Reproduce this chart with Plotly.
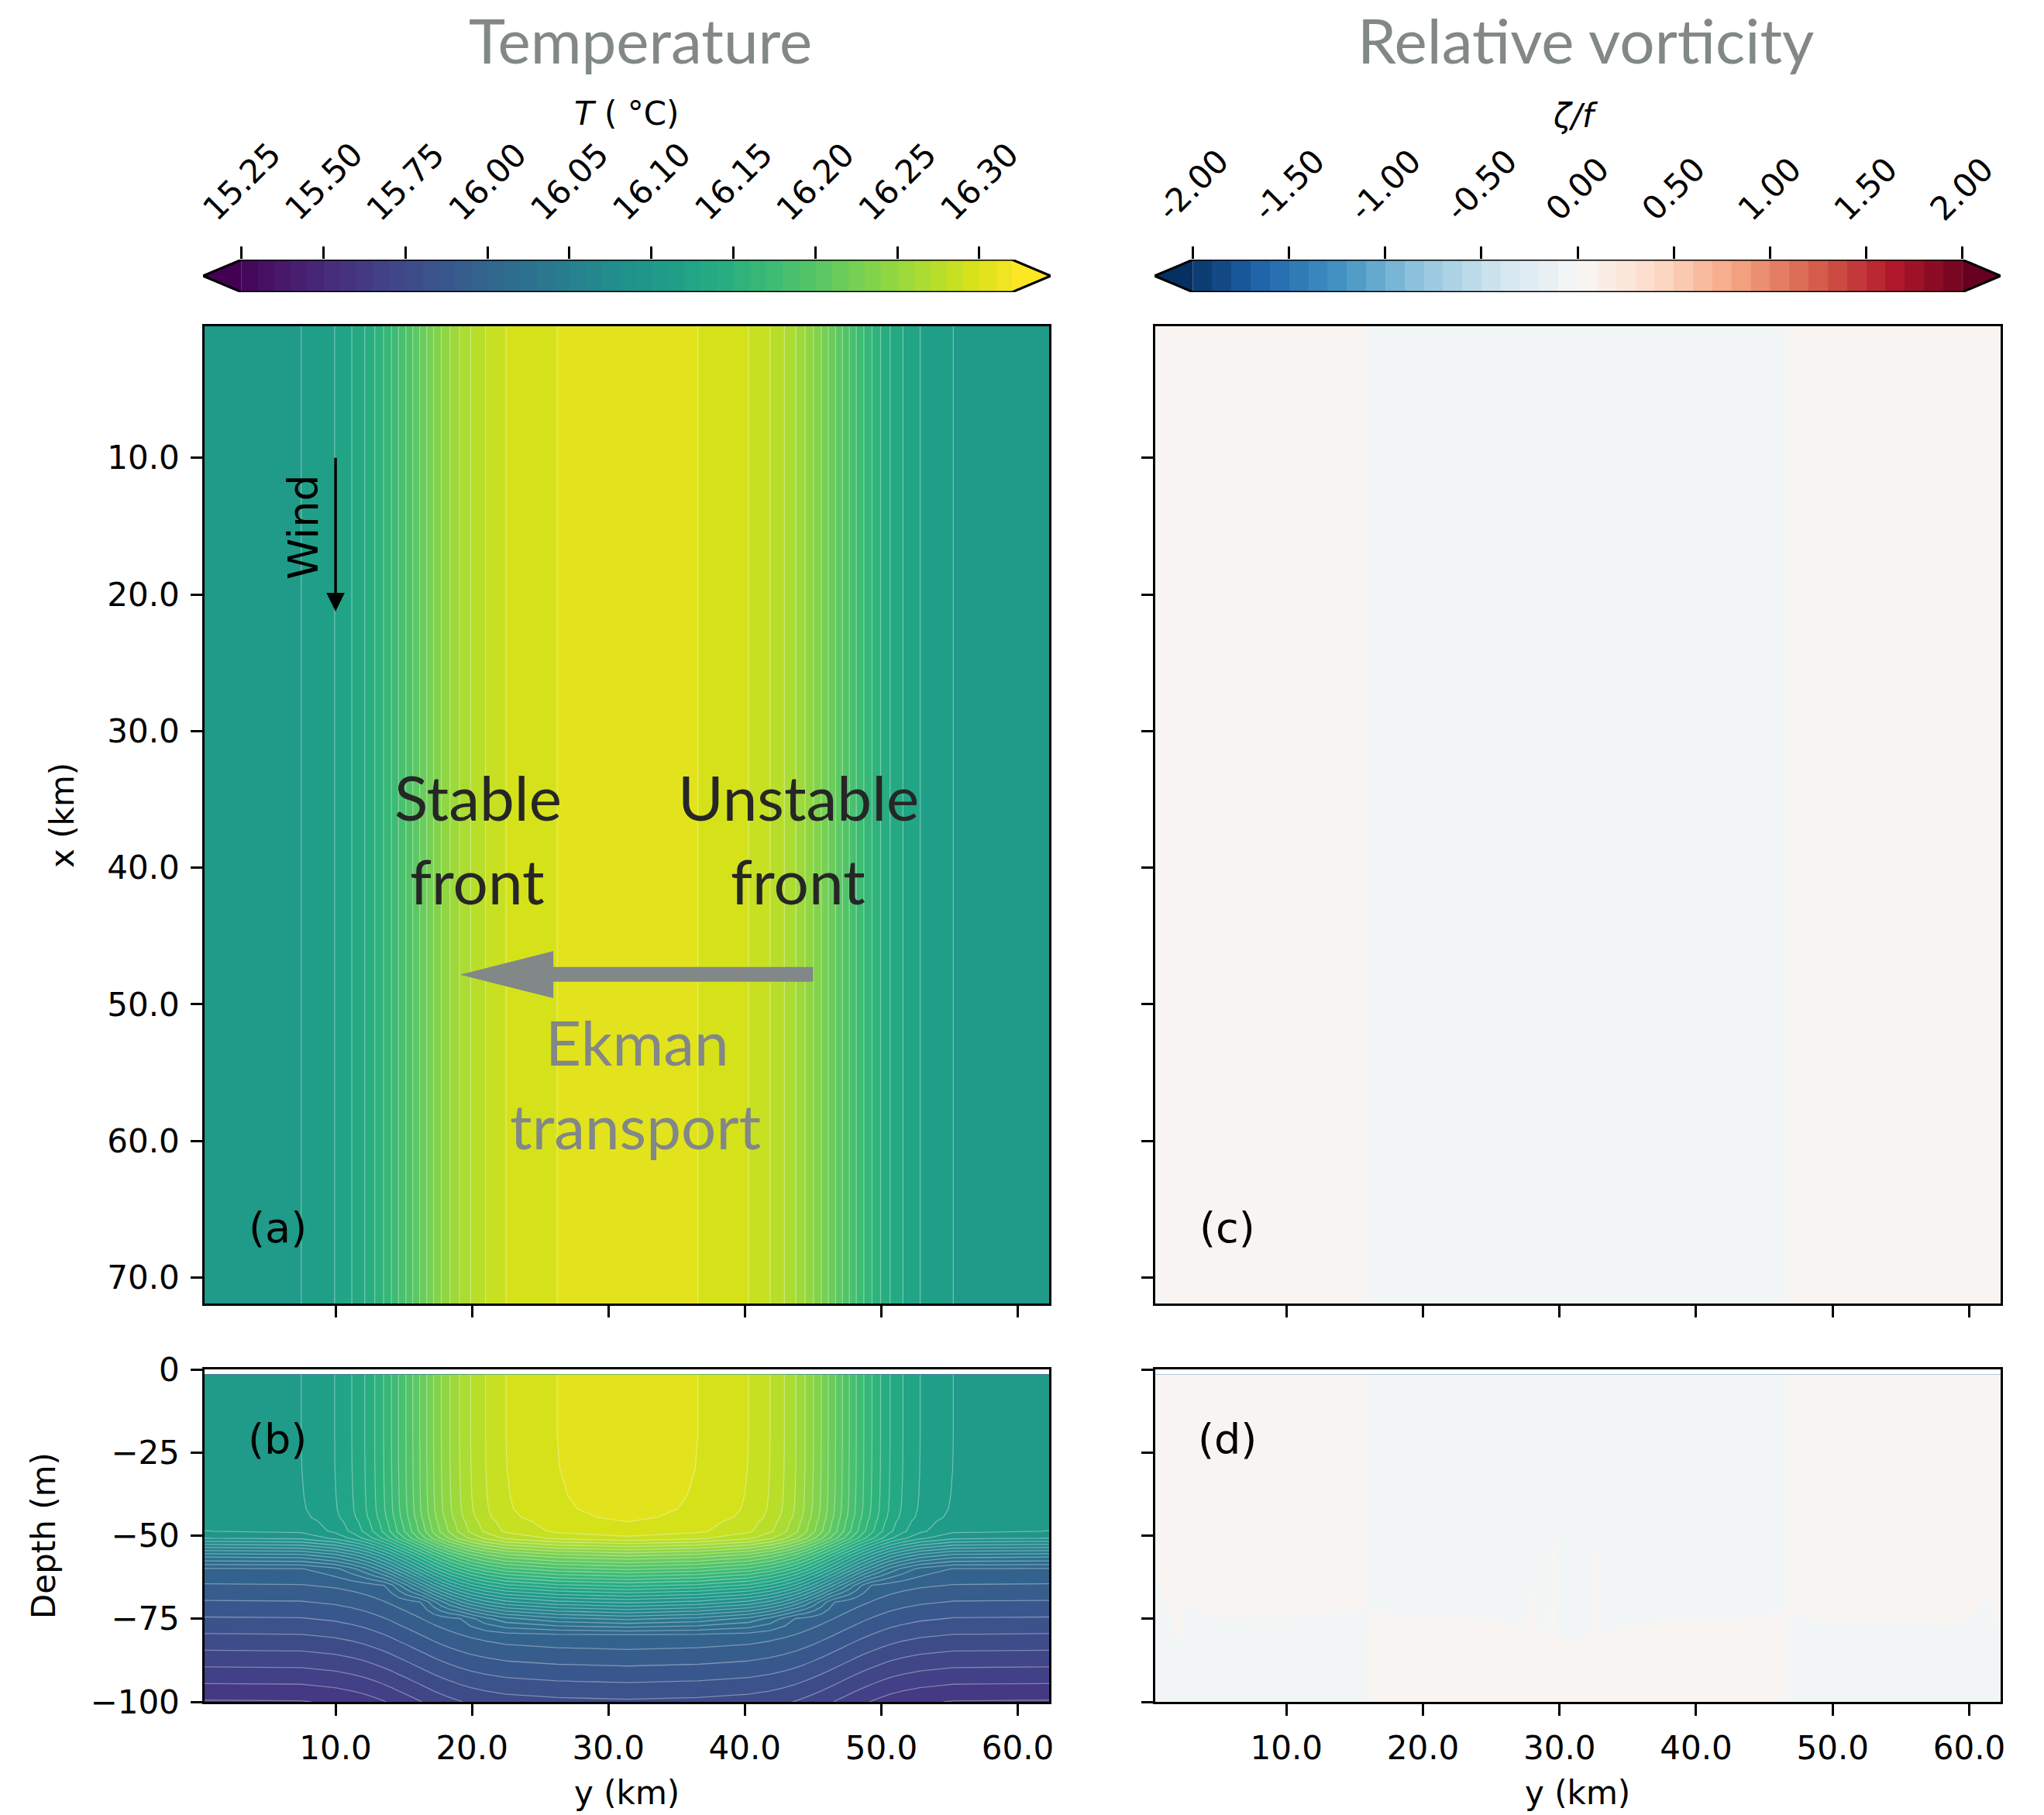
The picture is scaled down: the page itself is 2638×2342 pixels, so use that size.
import numpy as np
import plotly.graph_objects as go

W, H = 2638, 2342


def fx(px):
    return px / W


def fy(py):
    return 1 - py / H


# ---------------------------------------------------------------- levels / ticks
T_LEVELS = [15.25, 15.30, 15.35, 15.40, 15.45, 15.50, 15.55, 15.60, 15.65, 15.70,
            15.75, 15.80, 15.85, 15.90, 15.95,
            16.00, 16.01, 16.02, 16.03, 16.04, 16.05, 16.06, 16.07, 16.08, 16.09,
            16.10, 16.11, 16.12, 16.13, 16.14, 16.15, 16.16, 16.17, 16.18, 16.19,
            16.20, 16.21, 16.22, 16.23, 16.24, 16.25, 16.26, 16.27, 16.28, 16.29,
            16.30, 16.31, 16.32]
T_TICKS = [15.25, 15.50, 15.75, 16.00, 16.05, 16.10, 16.15, 16.20, 16.25, 16.30]
Z_LEVELS = [round(-2.0 + 0.1 * k, 1) for k in range(41)]
Z_TICKS = [-2.0, -1.5, -1.0, -0.5, 0.0, 0.5, 1.0, 1.5, 2.0]

Y_TICKS = [10, 20, 30, 40, 50, 60]
Y_TICKTEXT = ["10.0", "20.0", "30.0", "40.0", "50.0", "60.0"]
X_TICKS = [10, 20, 30, 40, 50, 60, 70]
X_TICKTEXT = ["10.0", "20.0", "30.0", "40.0", "50.0", "60.0", "70.0"]
D_TICKS = [0, -25, -50, -75, -100]
D_TICKTEXT = ["0", "\u221225", "\u221250", "\u221275", "\u2212100"]

# ---------------------------------------------------------------- temperature data
# surface temperature across the front (y in km)
y_km = [0.4, 7.48, 9.93, 11.19, 12.14, 12.87, 13.52, 14.10, 14.61, 15.15,
        15.66, 16.17, 16.68, 17.18, 17.75, 18.38, 19.09, 19.90, 20.99, 22.49,
        26.24, 31.40, 36.56, 40.27, 41.85, 42.90, 43.75, 44.42, 45.03, 45.60,
        46.12, 46.65, 47.15, 47.66, 48.17, 48.72, 49.32, 49.95, 50.64, 51.59,
        52.85, 55.28, 62.3]
T_surface = [16.1078, 16.11, 16.12, 16.13, 16.14, 16.15, 16.16, 16.17, 16.18, 16.19,
             16.20, 16.21, 16.22, 16.23, 16.24, 16.25, 16.26, 16.27, 16.28, 16.29,
             16.30, 16.3052, 16.30, 16.29, 16.28, 16.27, 16.26, 16.25, 16.24, 16.23,
             16.22, 16.21, 16.20, 16.19, 16.18, 16.17, 16.16, 16.15, 16.14, 16.13,
             16.12, 16.11, 16.1078]
x_km = [0.37, 71.9]

# temperature change with depth relative to the surface value
depth_m = [-1.6, -20.0, -30.0, -38.0, -42.0, -44.5, -45.7, -48.7, -50.8, -53.6,
           -56.0, -60.0, -65.0, -70.0, -75.0, -80.0, -85.0, -90.0, -95.0, -100.0]
dT_depth = [0.0, 0.0, -0.0002, -0.0008, -0.0015, -0.003, -0.005, -0.008, -0.018, -0.048,
            -0.074, -0.113, -0.163, -0.213, -0.263, -0.313, -0.363, -0.413, -0.463, -0.513]

# ---------------------------------------------------------------- vorticity data
zeta_y_plan = [0.4, 15.6, 16.1, 46.5, 47.0, 62.3]
zeta_plan = [0.02, 0.02, -0.02, -0.02, 0.02, 0.02]

zeta_depth = [-1.6, -45, -48, -52, -56, -60, -64, -68, -72, -76, -80, -84, -88, -100]
zeta_y_sec = [0.4, 1.3, 1.97, 2.8, 3.9, 5.3, 11.0, 13.9, 15.6,
              16.1, 20.0, 25.0, 27.3, 27.9, 28.4, 29.1, 29.5, 29.9, 31.1,
              32.3, 32.7, 33.1, 34.5, 38.0, 43.0, 46.5,
              47.0, 48.5, 55.0, 59.0, 60.2, 61.3, 62.3]
zeta_columns = [
    [0.02, 0.02, 0.02, 0.02, 0.02, 0.01, -0.01, -0.02, -0.02, -0.02, -0.02, -0.02, -0.02, -0.02],
    [0.02, 0.02, 0.02, 0.02, 0.02, 0.02, 0.02, 0.01, -0.01, -0.02, -0.02, -0.02, -0.02, -0.02],
    [0.02, 0.02, 0.02, 0.02, 0.02, 0.02, 0.02, 0.02, 0.02, 0.02, 0.01, -0.01, -0.02, -0.02],
    [0.02, 0.02, 0.02, 0.02, 0.02, 0.02, 0.02, 0.01, -0.01, -0.02, -0.02, -0.02, -0.02, -0.02],
    [0.02, 0.02, 0.02, 0.02, 0.02, 0.02, 0.02, 0.02, 0.005, -0.015, -0.02, -0.02, -0.02, -0.02],
    [0.02, 0.02, 0.02, 0.02, 0.02, 0.02, 0.02, 0.02, 0.015, -0.005, -0.02, -0.02, -0.02, -0.02],
    [0.02, 0.02, 0.02, 0.02, 0.02, 0.02, 0.02, 0.02, 0.0125, -0.0075, -0.02, -0.02, -0.02, -0.02],
    [0.02, 0.02, 0.02, 0.02, 0.02, 0.02, 0.02, 0.02, 0.005, -0.015, -0.02, -0.02, -0.02, -0.02],
    [0.02, 0.02, 0.02, 0.02, 0.02, 0.02, 0.02, 0.02, 0.0025, -0.0175, -0.02, -0.02, -0.02, -0.02],
    [-0.02, -0.02, -0.02, -0.02, -0.02, -0.02, -0.02, -0.02, -0.005, 0.015, 0.02, 0.02, 0.02, 0.02],
    [-0.02, -0.02, -0.02, -0.02, -0.02, -0.02, -0.02, -0.02, -0.0125, 0.0075, 0.02, 0.02, 0.02, 0.02],
    [-0.02, -0.02, -0.02, -0.02, -0.02, -0.02, -0.02, -0.02, -0.015, 0.005, 0.02, 0.02, 0.02, 0.02],
    [-0.02, -0.02, -0.02, -0.02, -0.02, -0.02, -0.02, -0.02, -0.02, -0.005, 0.015, 0.02, 0.02, 0.02],
    [-0.02, -0.02, -0.02, -0.02, -0.02, -0.02, -0.01, 0.01, 0.02, 0.02, 0.02, 0.02, 0.02, 0.02],
    [-0.02, -0.02, -0.02, -0.02, -0.02, -0.02, -0.02, -0.02, -0.02, -0.01, 0.01, 0.02, 0.02, 0.02],
    [-0.02, -0.02, -0.02, -0.02, -0.02, -0.02, -0.02, -0.02, -0.02, -0.015, 0.005, 0.02, 0.02, 0.02],
    [-0.02, -0.02, -0.01, 0.01, 0.02, 0.02, 0.02, 0.02, 0.02, 0.02, 0.02, 0.02, 0.02, 0.02],
    [-0.02, -0.02, -0.02, -0.02, -0.02, -0.02, -0.02, -0.02, -0.02, -0.02, -0.0025, 0.0175, 0.02, 0.02],
    [-0.02, -0.02, -0.02, -0.02, -0.02, -0.02, -0.02, -0.02, -0.02, -0.02, -0.01, 0.01, 0.02, 0.02],
    [-0.02, -0.02, -0.02, -0.02, -0.02, -0.02, -0.02, -0.02, -0.02, -0.015, 0.005, 0.02, 0.02, 0.02],
    [-0.02, -0.02, -0.02, -0.01, 0.03, 0.02, 0.02, 0.02, 0.02, 0.02, 0.02, 0.02, 0.02, 0.02],
    [-0.02, -0.02, -0.02, -0.02, -0.02, -0.02, -0.02, -0.02, -0.02, -0.02, -0.0025, 0.0175, 0.02, 0.02],
    [-0.02, -0.02, -0.02, -0.02, -0.02, -0.02, -0.02, -0.02, -0.02, -0.01, 0.01, 0.02, 0.02, 0.02],
    [-0.02, -0.02, -0.02, -0.02, -0.02, -0.02, -0.02, -0.02, -0.015, 0.005, 0.02, 0.02, 0.02, 0.02],
    [-0.02, -0.02, -0.02, -0.02, -0.02, -0.02, -0.02, -0.02, -0.015, 0.005, 0.02, 0.02, 0.02, 0.02],
    [-0.02, -0.02, -0.02, -0.02, -0.02, -0.02, -0.02, -0.02, -0.005, 0.015, 0.02, 0.02, 0.02, 0.02],
    [0.02, 0.02, 0.02, 0.02, 0.02, 0.02, 0.02, 0.02, 0.005, -0.015, -0.02, -0.02, -0.02, -0.02],
    [0.02, 0.02, 0.02, 0.02, 0.02, 0.02, 0.02, 0.02, 0.0175, -0.0025, -0.02, -0.02, -0.02, -0.02],
    [0.02, 0.02, 0.02, 0.02, 0.02, 0.02, 0.02, 0.02, 0.02, 0.0025, -0.0175, -0.02, -0.02, -0.02],
    [0.02, 0.02, 0.02, 0.02, 0.02, 0.02, 0.02, 0.02, 0.02, 0.005, -0.015, -0.02, -0.02, -0.02],
    [0.02, 0.02, 0.02, 0.02, 0.02, 0.02, 0.02, 0.02, 0.01, -0.01, -0.02, -0.02, -0.02, -0.02],
    [0.02, 0.02, 0.02, 0.02, 0.02, 0.02, 0.02, 0.005, -0.015, -0.02, -0.02, -0.02, -0.02, -0.02],
    [0.02, 0.02, 0.02, 0.02, 0.02, 0.02, 0.02, 0.02, 0.02, 0.01, -0.01, -0.02, -0.02, -0.02],
]

# ---------------------------------------------------------------- colour maps
VIRIDIS = [[0.0, '#440154'], [0.06274509803921569, '#48186a'], [0.12549019607843137, '#472d7b'],
           [0.18823529411764706, '#424086'], [0.25098039215686274, '#3b528b'],
           [0.3137254901960784, '#33638d'], [0.3764705882352941, '#2c728e'],
           [0.4392156862745098, '#26828e'], [0.5019607843137255, '#21918c'],
           [0.5647058823529412, '#1fa088'], [0.6274509803921569, '#28ae80'],
           [0.6901960784313725, '#3fbc73'], [0.7529411764705882, '#5ec962'],
           [0.8156862745098039, '#84d44b'], [0.8784313725490196, '#addc30'],
           [0.9411764705882353, '#d8e219'], [1.0, '#fde725']]
RDBU_R = [[0.0, 'rgb(5,48,97)'], [0.1, 'rgb(33,102,172)'], [0.2, 'rgb(67,147,195)'],
          [0.3, 'rgb(146,197,222)'], [0.4, 'rgb(209,229,240)'], [0.5, 'rgb(247,247,247)'],
          [0.6, 'rgb(253,219,199)'], [0.7, 'rgb(244,165,130)'], [0.8, 'rgb(214,96,77)'],
          [0.9, 'rgb(178,24,43)'], [1.0, 'rgb(103,0,31)']]


def level_index(v, levels):
    return np.interp(v, levels, np.arange(len(levels), dtype=float))


def contour(x, y, z, nlev, cs, xa, ya, lines):
    return go.Contour(
        x=x, y=y, z=z, xaxis=xa, yaxis=ya, colorscale=cs, showscale=False,
        autocontour=False,
        contours=dict(start=0, end=nlev - 1, size=1, coloring='fill', showlines=lines),
        line=dict(width=1.3 if lines else 0, color='rgba(255,255,255,0.35)', smoothing=0),
        hoverinfo='skip')


fig = go.Figure()

# (a) plan view temperature
T_plan_idx = level_index(np.array(T_surface), T_LEVELS)
fig.add_trace(contour(y_km, x_km, [T_plan_idx, T_plan_idx], len(T_LEVELS), VIRIDIS, 'x', 'y', True))

# (b) section temperature
T_section = np.array(T_surface)[None, :] + np.array(dT_depth)[:, None]
fig.add_trace(contour(y_km, depth_m, level_index(T_section, T_LEVELS), len(T_LEVELS), VIRIDIS,
                      'x2', 'y2', True))

# (c) plan view vorticity
Z_plan_idx = level_index(np.array(zeta_plan), Z_LEVELS)
fig.add_trace(contour(zeta_y_plan, x_km, [Z_plan_idx, Z_plan_idx], len(Z_LEVELS), RDBU_R,
                      'x3', 'y3', False))

# (d) section vorticity
zeta_section = np.array(zeta_columns).T
fig.add_trace(contour(zeta_y_sec, zeta_depth, level_index(zeta_section, Z_LEVELS), len(Z_LEVELS),
                      RDBU_R, 'x4', 'y4', False))

# colourbars drawn as heatmaps of their level bands
nT = len(T_LEVELS) - 1
fig.add_trace(go.Heatmap(x=list(range(nT + 1)), y=[0, 1], z=[[k + 0.5 for k in range(nT)]],
                         zmin=-0.5, zmax=nT + 0.5, colorscale=VIRIDIS, showscale=False,
                         xaxis='x5', yaxis='y5', hoverinfo='skip'))
nZ = len(Z_LEVELS) - 1
fig.add_trace(go.Heatmap(x=list(range(nZ + 1)), y=[0, 1], z=[[k + 0.5 for k in range(nZ)]],
                         zmin=-0.5, zmax=nZ + 0.5, colorscale=RDBU_R, showscale=False,
                         xaxis='x6', yaxis='y6', hoverinfo='skip'))

# ---------------------------------------------------------------- axes
tickfont = dict(family='DejaVu Sans', size=42, color='black')
common = dict(showgrid=False, zeroline=False, showline=True, mirror=True, linecolor='black',
              linewidth=3.3, ticks='outside', ticklen=14.6, tickwidth=3.3, tickcolor='black',
              tickfont=tickfont, tickmode='array', ticklabelstandoff=6, automargin=False)

PA = (264, 1354, 421, 1682)
PB = (264, 1354, 1767, 2196)
PC = (1491, 2582, 421, 1682)
PD = (1491, 2582, 1767, 2196)


def dom(p):
    return [fx(p[0]), fx(p[1])], [fy(p[3]), fy(p[2])]


Y_RANGE = [0.4, 62.3]
X_RANGE = [71.9, 0.37]
D_RANGE = [-100, 0]

layout_axes = {}
for i, (p, yr, yt, ytt, xlab, ylab) in enumerate([
        (PA, X_RANGE, X_TICKS, X_TICKTEXT, False, True),
        (PB, D_RANGE, D_TICKS, D_TICKTEXT, True, True),
        (PC, X_RANGE, X_TICKS, X_TICKTEXT, False, False),
        (PD, D_RANGE, D_TICKS, D_TICKTEXT, True, False)], start=1):
    dx, dy = dom(p)
    sfx = '' if i == 1 else str(i)
    layout_axes['xaxis' + sfx] = dict(common, domain=dx, range=Y_RANGE, anchor='y' + sfx,
                                      tickvals=Y_TICKS, ticktext=Y_TICKTEXT, showticklabels=xlab)
    layout_axes['yaxis' + sfx] = dict(common, domain=dy, range=yr, anchor='x' + sfx,
                                      tickvals=yt, ticktext=ytt, showticklabels=ylab)

CB_T = (262, 1356, 335, 377)
CB_Z = (1490, 2582, 335, 377)
ext_T = 0.05 * nT
ext_Z = 0.05 * nZ
for sfx, cb, n, ext, ticks, levels in [('5', CB_T, nT, ext_T, T_TICKS, T_LEVELS),
                                       ('6', CB_Z, nZ, ext_Z, Z_TICKS, Z_LEVELS)]:
    dx, dy = dom(cb)
    layout_axes['xaxis' + sfx] = dict(domain=dx, range=[-ext, n + ext], anchor='y' + sfx, side='top',
                                      showgrid=False, zeroline=False, showline=False,
                                      ticks='outside', ticklen=16, tickwidth=3, tickcolor='black',
                                      tickmode='array', automargin=False,
                                      tickvals=[float(level_index(v, levels)) for v in ticks],
                                      showticklabels=False)
    layout_axes['yaxis' + sfx] = dict(domain=dy, range=[0, 1], anchor='x' + sfx, visible=False,
                                      automargin=False)

# ---------------------------------------------------------------- shapes
shapes = []
for sfx, n, ext, c0, c1 in [('5', nT, ext_T, VIRIDIS[0][1], VIRIDIS[-1][1]),
                            ('6', nZ, ext_Z, RDBU_R[0][1], RDBU_R[-1][1])]:
    xr, yr = 'x' + sfx, 'y' + sfx
    shapes.append(dict(type='path', xref=xr, yref=yr, path=f'M 0,0 L {-ext},0.5 L 0,1 Z',
                       fillcolor=c0, line=dict(width=0)))
    shapes.append(dict(type='path', xref=xr, yref=yr, path=f'M {n},0 L {n + ext},0.5 L {n},1 Z',
                       fillcolor=c1, line=dict(width=0)))
    shapes.append(dict(type='path', xref=xr, yref=yr,
                       path=f'M {-ext},0.5 L 0,1 L {n},1 L {n + ext},0.5 L {n},0 L 0,0 Z',
                       line=dict(width=3, color='black')))

# wind arrow (panel a): along x from 10 km to 21.25 km at y = 10 km
shapes.append(dict(type='line', xref='x', yref='y', x0=10, x1=10, y0=10, y1=19.9,
                   line=dict(color='black', width=3.5)))
shapes.append(dict(type='path', xref='x', yref='y', path='M 9.33,19.89 L 10.67,19.89 L 10,21.25 Z',
                   fillcolor='black', line=dict(width=0)))
# Ekman transport arrow
GRAY = '#828787'
shapes.append(dict(type='path', xref='x', yref='y',
                   path='M 45.0,47.27 L 25.96,47.27 L 25.96,46.11 L 19.13,47.83 L 25.96,49.55 '
                        'L 25.96,48.35 L 45.0,48.35 Z',
                   fillcolor=GRAY, line=dict(width=0)))

# ---------------------------------------------------------------- annotations
ann = []


def text(x, y, s, size, color='black', family='DejaVu Sans', angle=0, xa='center', ya='middle'):
    ann.append(dict(x=fx(x), y=fy(y), xref='paper', yref='paper', text=s, showarrow=False,
                    textangle=angle, xanchor=xa, yanchor=ya,
                    font=dict(family=family, size=size, color=color)))


text(826, 51, 'Temperature', 80, GRAY, 'Lato')
text(2047, 51, 'Relative vorticity', 80, GRAY, 'Lato')
text(809, 146, '<i>T</i> ( \u00b0C)', 42)
text(2033, 150, '<i>\u03b6/f</i>', 42)

for sfx, ticks, levels in [('5', T_TICKS, T_LEVELS), ('6', Z_TICKS, Z_LEVELS)]:
    for v in ticks:
        ann.append(dict(x=float(level_index(v, levels)), xref='x' + sfx, y=fy(297), yref='paper',
                        text=f'{v:.2f}', showarrow=False, textangle=-45,
                        xanchor='center', yanchor='bottom', font=tickfont))

text(80, 1052, 'x (km)', 42, angle=-90)
text(56, 1982, 'Depth (m)', 42, angle=-90)
text(809, 2313, 'y (km)', 42)
text(2036, 2313, 'y (km)', 42)

text(358, 1584, '(a)', 54)
text(358, 1857, '(b)', 54)
text(1584, 1584, '(c)', 54)
text(1584, 1857, '(d)', 54)

text(391, 680, 'Wind', 54, angle=-90)
DARK = '#262626'
text(617, 1028, 'Stable', 80, DARK, 'Lato')
text(616, 1136, 'front', 80, DARK, 'Lato')
text(1030, 1028, 'Unstable', 80, DARK, 'Lato')
text(1030, 1136, 'front', 80, DARK, 'Lato')
text(822, 1344, 'Ekman', 80, GRAY, 'Lato')
text(820, 1452, 'transport', 80, GRAY, 'Lato')

fig.update_layout(
    template='none',
    width=W, height=H, margin=dict(l=0, r=0, t=0, b=0, pad=0, autoexpand=False),
    paper_bgcolor='white', plot_bgcolor='white', showlegend=False,
    shapes=shapes, annotations=ann, **layout_axes)

fig.write_html('out.html')
